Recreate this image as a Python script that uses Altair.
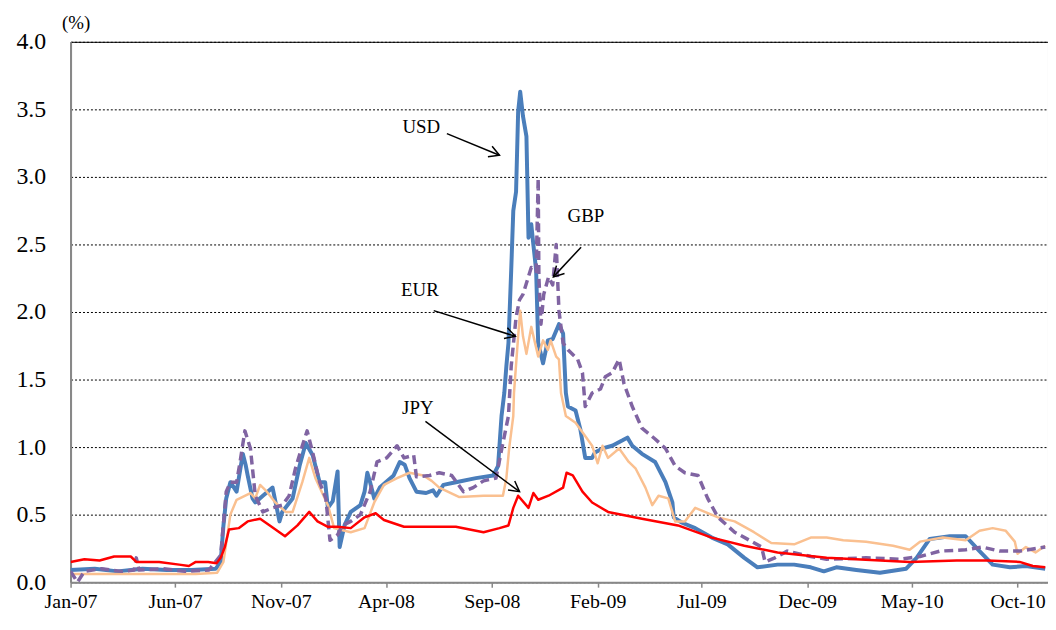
import altair as alt
import pandas as pd

FONT = "Liberation Serif"

# ---------------- data ----------------
USD_DATES = ["2007-01-01", "2007-02-05", "2007-03-10", "2007-04-15", "2007-05-20", "2007-06-25",
             "2007-07-30", "2007-08-06", "2007-08-10", "2007-08-14", "2007-08-20", "2007-08-29",
             "2007-09-07", "2007-09-11", "2007-09-14", "2007-09-21", "2007-09-25", "2007-10-06",
             "2007-10-20", "2007-10-30", "2007-11-03", "2007-11-18", "2007-11-28", "2007-12-07",
             "2007-12-17", "2007-12-27", "2008-01-04", "2008-01-08", "2008-01-15", "2008-01-22",
             "2008-01-25", "2008-02-01", "2008-02-10", "2008-02-24", "2008-03-01", "2008-03-05",
             "2008-03-09", "2008-03-15", "2008-03-23", "2008-04-12", "2008-04-21", "2008-04-28",
             "2008-05-05", "2008-05-15", "2008-05-29", "2008-06-08", "2008-06-13", "2008-06-23",
             "2008-07-11", "2008-08-09", "2008-09-03", "2008-09-10", "2008-09-15", "2008-09-19",
             "2008-09-22", "2008-09-25", "2008-09-29", "2008-10-02", "2008-10-06", "2008-10-09",
             "2008-10-12", "2008-10-16", "2008-10-21", "2008-10-24", "2008-10-28", "2008-10-31",
             "2008-11-04", "2008-11-07", "2008-11-14", "2008-11-21", "2008-11-28", "2008-12-07",
             "2008-12-13", "2008-12-17", "2008-12-20", "2008-12-31", "2009-01-07", "2009-01-14",
             "2009-01-24", "2009-01-28", "2009-02-08", "2009-02-22", "2009-03-09", "2009-03-16",
             "2009-03-23", "2009-04-06", "2009-04-25", "2009-05-10", "2009-05-20", "2009-05-22",
             "2009-06-03", "2009-06-22", "2009-07-16", "2009-08-08", "2009-09-01", "2009-09-20",
             "2009-10-19", "2009-11-12", "2009-12-06", "2009-12-25", "2010-01-12", "2010-02-10",
             "2010-03-16", "2010-04-23", "2010-05-08", "2010-05-27", "2010-06-25", "2010-07-18",
             "2010-08-07", "2010-08-26", "2010-09-20", "2010-10-13", "2010-11-10"]
USD_VALUES = [0.09, 0.10, 0.08, 0.10, 0.09, 0.09,
              0.10, 0.15, 0.42, 0.62, 0.74, 0.67,
              0.95, 0.87, 0.79, 0.62, 0.59, 0.64,
              0.70, 0.45, 0.52, 0.62, 0.86, 1.03,
              0.94, 0.74, 0.74, 0.55, 0.60, 0.82,
              0.26, 0.42, 0.52, 0.57, 0.67, 0.81,
              0.74, 0.62, 0.70, 0.79, 0.89, 0.87,
              0.77, 0.67, 0.66, 0.68, 0.64, 0.72,
              0.74, 0.77, 0.79, 0.86, 1.23, 1.40,
              1.60, 1.77, 2.31, 2.75, 2.89, 3.48,
              3.63, 3.45, 3.30, 2.55, 2.65, 2.50,
              2.31, 1.77, 1.62, 1.79, 1.80, 1.91,
              1.84, 1.40, 1.30, 1.27, 1.13, 0.92,
              0.92, 0.96, 0.99, 1.01, 1.05, 1.07,
              1.01, 0.95, 0.89, 0.74, 0.59, 0.48,
              0.44, 0.40, 0.33, 0.28, 0.18, 0.11,
              0.13, 0.13, 0.11, 0.08, 0.11, 0.09,
              0.07, 0.10, 0.18, 0.32, 0.34, 0.34,
              0.23, 0.13, 0.11, 0.12, 0.10]

EUR_DATES = ["2007-01-01", "2007-02-15", "2007-04-01", "2007-05-15", "2007-07-01", "2007-08-01",
             "2007-08-10", "2007-08-20", "2007-08-29", "2007-09-18", "2007-09-25", "2007-10-02",
             "2007-10-10", "2007-10-24", "2007-11-08", "2007-11-18", "2007-12-02", "2007-12-12",
             "2007-12-21", "2008-01-08", "2008-01-17", "2008-02-10", "2008-03-01", "2008-03-15",
             "2008-03-29", "2008-04-17", "2008-05-05", "2008-05-25", "2008-06-06", "2008-06-17",
             "2008-07-16", "2008-08-20", "2008-09-17", "2008-09-22", "2008-09-26", "2008-10-02",
             "2008-10-03", "2008-10-09", "2008-10-12", "2008-10-16", "2008-10-21", "2008-10-28",
             "2008-11-07", "2008-11-14", "2008-11-21", "2008-11-25", "2008-12-03", "2008-12-07",
             "2008-12-10", "2008-12-17", "2008-12-31", "2009-01-10", "2009-01-24", "2009-02-01",
             "2009-02-08", "2009-02-16", "2009-03-04", "2009-03-18", "2009-03-28", "2009-04-11",
             "2009-04-21", "2009-04-30", "2009-05-14", "2009-05-24", "2009-06-07", "2009-06-22",
             "2009-07-06", "2009-07-25", "2009-08-18", "2009-09-15", "2009-10-10", "2009-11-12",
             "2009-12-06", "2009-12-29", "2010-01-22", "2010-02-24", "2010-04-04", "2010-04-28",
             "2010-05-13", "2010-06-15", "2010-07-18", "2010-08-07", "2010-08-26", "2010-09-14",
             "2010-09-27", "2010-10-01", "2010-10-13", "2010-10-27", "2010-11-10"]
EUR_VALUES = [0.06, 0.06, 0.06, 0.06, 0.06, 0.07,
              0.15, 0.50, 0.61, 0.66, 0.62, 0.72,
              0.68, 0.59, 0.52, 0.52, 0.74, 0.92,
              0.77, 0.57, 0.40, 0.37, 0.40, 0.59,
              0.72, 0.77, 0.81, 0.79, 0.75, 0.70,
              0.63, 0.64, 0.64, 0.77, 0.99, 1.23,
              1.40, 1.82, 2.01, 1.82, 1.69, 1.89,
              1.67, 1.79, 1.72, 1.79, 1.67, 1.65,
              1.40, 1.23, 1.18, 1.11, 1.01, 0.88,
              1.01, 0.92, 0.99, 0.89, 0.84, 0.70,
              0.57, 0.64, 0.62, 0.45, 0.45, 0.55,
              0.52, 0.48, 0.45, 0.37, 0.29, 0.28,
              0.33, 0.33, 0.31, 0.30, 0.27, 0.24,
              0.30, 0.33, 0.31, 0.38, 0.40, 0.38,
              0.30, 0.21, 0.26, 0.22, 0.27]

GBP_DATES = ["2007-01-01", "2007-01-11", "2007-01-21", "2007-02-15", "2007-03-15", "2007-04-03",
             "2007-04-06", "2007-04-10", "2007-05-15", "2007-06-15", "2007-07-20", "2007-08-06",
             "2007-08-14", "2007-08-20", "2007-08-29", "2007-09-03", "2007-09-10", "2007-09-18",
             "2007-09-25", "2007-10-06", "2007-10-20", "2007-11-03", "2007-11-13", "2007-11-22",
             "2007-12-02", "2007-12-09", "2007-12-17", "2007-12-27", "2008-01-05", "2008-01-11",
             "2008-01-22", "2008-01-29", "2008-02-10", "2008-02-24", "2008-03-09", "2008-03-19",
             "2008-04-02", "2008-04-17", "2008-04-27", "2008-05-11", "2008-05-15", "2008-06-03",
             "2008-06-17", "2008-07-05", "2008-07-22", "2008-08-05", "2008-08-20", "2008-09-07",
             "2008-09-17", "2008-09-25", "2008-09-29", "2008-10-06", "2008-10-11", "2008-10-16",
             "2008-10-28", "2008-11-04", "2008-11-07", "2008-11-08", "2008-11-11", "2008-11-15",
             "2008-11-22", "2008-11-28", "2008-12-03", "2008-12-07", "2008-12-13", "2008-12-20",
             "2009-01-03", "2009-01-10", "2009-01-14", "2009-01-24", "2009-02-05", "2009-02-12",
             "2009-02-22", "2009-03-04", "2009-03-11", "2009-03-23", "2009-04-06", "2009-04-25",
             "2009-05-10", "2009-05-24", "2009-06-07", "2009-06-26", "2009-07-10", "2009-07-25",
             "2009-08-18", "2009-09-12", "2009-09-26", "2009-10-01", "2009-10-15", "2009-11-02",
             "2009-12-06", "2009-12-29", "2010-02-24", "2010-04-14", "2010-05-13", "2010-06-11",
             "2010-07-18", "2010-08-11", "2010-09-05", "2010-10-04", "2010-11-10"]
GBP_VALUES = [0.08, 0.00, 0.08, 0.10, 0.08, 0.09,
              0.18, 0.09, 0.10, 0.08, 0.09, 0.20,
              0.67, 0.74, 0.74, 0.89, 1.12, 0.99,
              0.64, 0.52, 0.55, 0.57, 0.64, 0.84,
              1.01, 1.12, 0.96, 0.74, 0.62, 0.31,
              0.35, 0.42, 0.45, 0.50, 0.67, 0.89,
              0.92, 1.01, 0.92, 0.94, 0.78, 0.79,
              0.81, 0.79, 0.67, 0.70, 0.75, 0.77,
              1.03, 1.23, 1.60, 1.96, 2.09, 2.13,
              2.33, 2.30, 2.99, 2.26, 1.91, 2.13,
              2.26, 2.20, 2.50, 2.01, 1.77, 1.72,
              1.65, 1.55, 1.30, 1.40, 1.43, 1.52,
              1.55, 1.65, 1.47, 1.30, 1.14, 1.06,
              0.99, 0.86, 0.81, 0.79, 0.62, 0.48,
              0.37, 0.30, 0.26, 0.15, 0.18, 0.23,
              0.19, 0.17, 0.18, 0.17, 0.19, 0.23,
              0.24, 0.26, 0.23, 0.23, 0.26]

JPY_DATES = ["2007-01-01", "2007-01-21", "2007-02-12", "2007-03-05", "2007-03-29", "2007-04-06",
             "2007-05-09", "2007-06-07", "2007-06-21", "2007-07-01", "2007-07-19", "2007-07-31",
             "2007-08-06", "2007-08-12", "2007-08-18", "2007-09-01", "2007-09-14", "2007-10-02",
             "2007-10-16", "2007-11-07", "2007-11-25", "2007-12-12", "2007-12-24", "2008-01-08",
             "2008-01-22", "2008-02-10", "2008-03-01", "2008-03-17", "2008-03-29", "2008-04-27",
             "2008-05-29", "2008-07-11", "2008-08-20", "2008-09-12", "2008-09-25", "2008-10-02",
             "2008-10-09", "2008-10-24", "2008-10-31", "2008-11-07", "2008-11-22", "2008-12-13",
             "2008-12-18", "2008-12-27", "2009-01-10", "2009-01-24", "2009-02-16", "2009-04-06",
             "2009-05-28", "2009-07-16", "2009-09-01", "2009-10-19", "2009-12-29", "2010-04-28",
             "2010-07-05", "2010-08-18", "2010-10-04", "2010-10-23", "2010-11-10"]
JPY_VALUES = [0.15, 0.17, 0.16, 0.19, 0.19, 0.15,
              0.15, 0.13, 0.12, 0.15, 0.15, 0.14,
              0.18, 0.26, 0.39, 0.40, 0.45, 0.47,
              0.42, 0.34, 0.42, 0.52, 0.45, 0.41,
              0.41, 0.40, 0.48, 0.51, 0.46, 0.41,
              0.41, 0.41, 0.37, 0.40, 0.42, 0.55,
              0.64, 0.55, 0.66, 0.61, 0.64, 0.70,
              0.81, 0.79, 0.67, 0.59, 0.52, 0.47,
              0.42, 0.33, 0.27, 0.22, 0.18, 0.15,
              0.16, 0.16, 0.15, 0.12, 0.11]

# annotation labels and arrows (data coordinates)
LABELS = ["USD", "GBP", "EUR", "JPY"]
LABEL_DATES = ["2008-05-22", "2009-01-15", "2008-05-20", "2008-05-17"]
LABEL_VALUES = [3.37, 2.71, 2.16, 1.29]
ARROW_START_DATES = ["2008-06-28", "2009-01-08", "2008-06-09", "2008-05-28"]
ARROW_START_VALUES = [3.32, 2.48, 2.01, 1.19]
ARROW_END_DATES = ["2008-09-12", "2008-11-29", "2008-10-05", "2008-10-11"]
ARROW_END_VALUES = [3.16, 2.26, 1.82, 0.67]
ARROW_ANGLES = [22, 134, 18, 37]

TICK_MONTHS = [(2007, 1), (2007, 6), (2007, 11), (2008, 4), (2008, 9), (2009, 2),
               (2009, 7), (2009, 12), (2010, 5), (2010, 10)]
Y_TICKS = [0, 0.5, 1.0, 1.5, 2.0, 2.5, 3.0, 3.5, 4.0]

# ---------------- chart ----------------
x_scale = alt.Scale(type="utc",
                    domain=[alt.DateTime(year=2007, month=1, date=1, utc=True),
                            alt.DateTime(year=2010, month=11, date=14, utc=True)])
y_scale = alt.Scale(domain=[0, 4], nice=False, zero=True)

x_axis = alt.Axis(values=[alt.DateTime(year=y, month=m, date=1, utc=True) for y, m in TICK_MONTHS],
                  labelExpr="utcFormat(datum.value, '%b-%y')", title=None, grid=False,
                  labelFont=FONT, labelFontSize=20, labelColor="black",
                  labelFlush=False, labelOverlap=False, labelPadding=5,
                  tickColor="#888888", tickSize=5, tickWidth=1.5,
                  domainColor="#888888", domainWidth=2)
y_axis = alt.Axis(values=Y_TICKS, format=".1f", title="(%)", titleAngle=0,
                  titleX=5, titleY=-19, titleAlign="center", titleBaseline="middle",
                  titleFont=FONT, titleFontSize=19, titleFontWeight="normal", titleColor="black",
                  labelFont=FONT, labelFontSize=24, labelColor="black", labelPadding=25,
                  ticks=False, domainColor="#888888", domainWidth=2,
                  grid=True, gridColor="#000000", gridDash=[2, 2], gridWidth=1, gridOpacity=1)

X = alt.X("date:T", scale=x_scale, axis=x_axis)
Y = alt.Y("value:Q", scale=y_scale, axis=y_axis)


def series(dates, values, color, width, dash=None):
    df = pd.DataFrame({"date": dates, "value": values})
    kw = dict(color=color, strokeWidth=width, strokeJoin="round", clip=True)
    if dash:
        kw["strokeDash"] = dash
        kw["strokeCap"] = "butt"
    return alt.Chart(df).mark_line(**kw).encode(x=X, y=Y)


usd = series(USD_DATES, USD_VALUES, "#4A7EBB", 4)
eur = series(EUR_DATES, EUR_VALUES, "#FAC090", 2.5)
gbp = series(GBP_DATES, GBP_VALUES, "#8064A2", 3.5, dash=[9, 5])
jpy = series(JPY_DATES, JPY_VALUES, "#FF0000", 2.5)

lab_df = pd.DataFrame({"date": LABEL_DATES, "value": LABEL_VALUES, "label": LABELS})
labels = alt.Chart(lab_df).mark_text(font=FONT, fontSize=19, color="black",
                                     align="center", baseline="middle").encode(
    x=X, y=Y, text="label:N")

arr_df = pd.DataFrame({"date": ARROW_START_DATES, "value": ARROW_START_VALUES,
                       "date2": ARROW_END_DATES, "value2": ARROW_END_VALUES,
                       "angle": ARROW_ANGLES})
shafts = alt.Chart(arr_df).mark_rule(color="black", strokeWidth=1.5).encode(
    x=X, y=Y, x2="date2:T", y2="value2:Q")
heads = alt.Chart(arr_df).mark_point(shape="M-1,-0.55L0,0L-1,0.55", filled=False,
                                     color="black", strokeWidth=1.5, size=420,
                                     opacity=1).encode(
    x=alt.X("date2:T", scale=x_scale, axis=x_axis),
    y=alt.Y("value2:Q", scale=y_scale, axis=y_axis),
    angle=alt.Angle("angle:Q", scale=None))

chart = alt.layer(usd, eur, gbp, jpy, shafts, heads, labels).properties(
    width=984, height=544,
    padding={"left": 63, "top": 32, "right": 0, "bottom": 30},
    autosize=alt.AutoSizeParams(type="none"),
    background="white",
).configure_view(stroke="black", strokeWidth=1)

chart.save("out.html", embed_options={"renderer": "svg", "actions": False})
